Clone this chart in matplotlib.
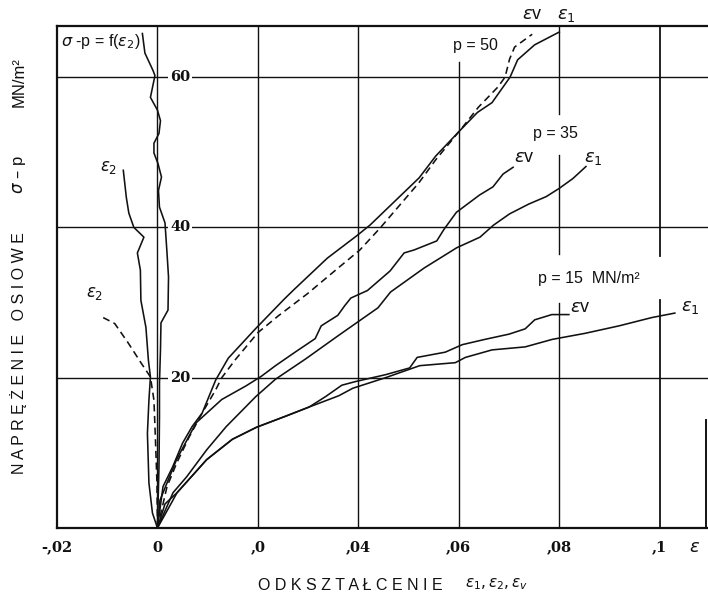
import matplotlib
matplotlib.use("Agg")
import matplotlib.pyplot as plt

# ---------------- data (strain, axial stress sigma-p in MN/m^2) ----------------
# p = 50 MN/m^2
p50_e1_x = [0, 0.0011, 0.0030, 0.0050, 0.0069, 0.0089, 0.0116, 0.0141, 0.0195, 0.0253, 0.0273,
            0.0338, 0.0397, 0.0423, 0.0521, 0.0554, 0.0598, 0.0637, 0.0666, 0.0702, 0.0717, 0.0751, 0.0800]
p50_e1_y = [0, 5.5, 8.1, 11.3, 13.5, 15.3, 19.7, 22.6, 26.5, 30.5, 31.8,
            35.9, 38.9, 40.3, 46.6, 49.5, 52.6, 55.3, 56.6, 60.0, 62.3, 64.3, 66.0]

p50_ev_x = [0, 0.0019, 0.0038, 0.0063, 0.0089, 0.0116, 0.0128, 0.0155, 0.0200, 0.0240, 0.0299,
            0.0358, 0.0403, 0.0443, 0.0520, 0.0554, 0.0607, 0.0639, 0.0678, 0.0692, 0.0701, 0.0711, 0.0746]
p50_ev_y = [0, 5.5, 8.6, 12.1, 15.3, 18.4, 20.0, 22.4, 26.0, 28.2, 31.2,
            34.5, 37.0, 39.9, 45.9, 49.0, 53.3, 56.0, 58.7, 60.0, 62.4, 64.0, 65.7]

p50_e2_x = [0, 0.0003, 0.0004, 0.0004, 0.0006, 0.0007, 0.0021, 0.0022, 0.0019, 0.0015, 0.0004, 0.0002,
            0.0008, 0.0001, -0.0007, -0.0007, 0.0003, 0.0006, 0.0000, -0.0014, -0.0005, -0.0009, -0.0025, -0.0030]
p50_e2_y = [0, 8.1, 14.8, 19.3, 23.7, 27.3, 29.0, 33.4, 36.6, 40.6, 42.7, 44.9,
            46.7, 48.5, 49.9, 51.2, 52.5, 54.2, 55.6, 57.3, 60.2, 60.9, 63.2, 65.8]

# p = 35 MN/m^2
p35_e1_x = [0, 0.0031, 0.0058, 0.0098, 0.0137, 0.0196, 0.0235, 0.0295, 0.0360, 0.0439, 0.0464,
            0.0531, 0.0596, 0.0642, 0.0669, 0.0701, 0.0739, 0.0774, 0.0800, 0.0827, 0.0853]
p35_e1_y = [0, 4.7, 6.8, 10.4, 13.5, 17.5, 19.8, 22.5, 25.6, 29.3, 31.4,
            34.6, 37.3, 38.7, 40.3, 41.8, 43.1, 44.1, 45.2, 46.5, 48.1]

p35_ev_x = [0, 0.0005, 0.0038, 0.0077, 0.0128, 0.0176, 0.0207, 0.0235, 0.0274, 0.0314, 0.0326, 0.0359,
            0.0373, 0.0385, 0.0418, 0.0463, 0.0491, 0.0511, 0.0556, 0.0570, 0.0595, 0.0641, 0.0668, 0.0688, 0.0708]
p35_ev_y = [0, 3.7, 9.1, 14.0, 17.1, 18.9, 20.2, 21.6, 23.4, 25.2, 26.9, 28.3,
            29.6, 30.6, 31.6, 34.2, 36.6, 37.0, 38.2, 39.7, 42.0, 44.3, 45.4, 47.1, 48.0]

p35_e2_x = [0, -0.0010, -0.0017, -0.0020, -0.0017, -0.0014, -0.0018, -0.0023, -0.0033, -0.0034,
            -0.0040, -0.0027, -0.0047, -0.0057, -0.0062, -0.0068]
p35_e2_y = [0, 2.0, 6.0, 12.6, 17.0, 20.1, 22.3, 26.7, 30.3, 34.3,
            36.6, 38.7, 40.0, 41.9, 44.0, 47.6]

# p = 15 MN/m^2
p15_e1_x = [0, 0.0015, 0.0039, 0.0098, 0.0149, 0.0197, 0.0256, 0.0302, 0.0361, 0.0389, 0.0454,
            0.0522, 0.0593, 0.0613, 0.0666, 0.0732, 0.0786, 0.0851, 0.0919, 0.0984, 0.1030]
p15_e1_y = [0, 3.2, 4.7, 9.1, 11.8, 13.4, 14.9, 16.1, 17.6, 18.6, 20.0,
            21.6, 22.0, 22.7, 23.7, 24.1, 25.1, 25.9, 26.9, 28.0, 28.6]

p15_ev_x = [0, 0.0025, 0.0039, 0.0098, 0.0149, 0.0197, 0.0256, 0.0302, 0.0335, 0.0367, 0.0395, 0.0454,
            0.0502, 0.0517, 0.0573, 0.0607, 0.0652, 0.0700, 0.0732, 0.0751, 0.0785, 0.0819]
p15_ev_y = [0, 3.0, 4.7, 9.1, 11.8, 13.4, 14.9, 16.1, 17.5, 19.0, 19.5, 20.4,
            21.3, 22.7, 23.4, 24.4, 25.1, 25.8, 26.5, 27.7, 28.4, 28.4]

p15_e2_x = [0, -0.0001, -0.0004, -0.0007, -0.0014, -0.0032, -0.0058, -0.0085, -0.0108]
p15_e2_y = [0, 6.0, 11.7, 17.0, 20.1, 21.9, 24.6, 27.2, 28.0]

x_ticks = [-0.02, 0, 0.02, 0.04, 0.06, 0.08, 0.1]
x_tick_labels = ["-,02", "0", ",0", ",04", ",06", ",08", ",1"]
y_ticks = [20, 40, 60]
y_tick_labels = ["20", "40", "60"]

XMIN, XMAX = -0.02, 0.1096
YMIN, YMAX = 0, 66.8

# ---------------- figure ----------------
fig = plt.figure(figsize=(7.08, 6.0), dpi=100)
fig.patch.set_facecolor("white")
ax = fig.add_axes([57 / 708, 72 / 600, 651 / 708, 502 / 600])
ax.set_xlim(XMIN, XMAX)
ax.set_ylim(YMIN, YMAX)

ink = "#111111"
for s in ["left", "top", "bottom"]:
    ax.spines[s].set_linewidth(1.6)
    ax.spines[s].set_color(ink)
ax.spines["right"].set_visible(False)
# partial right border
ax.axvline(XMAX - 0.0004, ymin=0, ymax=0.215, color=ink, lw=1.4)

# horizontal grid
for yv in y_ticks:
    ax.axhline(yv, color=ink, lw=1.0, zorder=1)

# vertical grid (with gaps where the scanned original has them)
def frac(v):
    return (v - YMIN) / (YMAX - YMIN)

ax.axvline(0.0, color=ink, lw=1.0, zorder=1)
ax.axvline(0.02, color=ink, lw=1.0, zorder=1)
ax.axvline(0.04, color=ink, lw=1.0, zorder=1)
ax.axvline(0.06, ymin=0, ymax=frac(62.0), color=ink, lw=1.0, zorder=1)
ax.axvline(0.08, ymin=0, ymax=frac(29.9), color=ink, lw=1.0, zorder=1)
ax.axvline(0.08, ymin=frac(36.5), ymax=frac(49.7), color=ink, lw=1.0, zorder=1)
ax.axvline(0.08, ymin=frac(55.1), ymax=1, color=ink, lw=1.0, zorder=1)
ax.axvline(0.1, ymin=0, ymax=frac(30.3), color=ink, lw=1.3, zorder=1)
ax.axvline(0.1, ymin=frac(36.2), ymax=1, color=ink, lw=1.3, zorder=1)

# curves
lw = 1.15
dash = (0, (4.5, 2.8))
ax.plot(p50_e1_x, p50_e1_y, color=ink, lw=lw, zorder=3)
ax.plot(p50_ev_x, p50_ev_y, color=ink, lw=lw, ls=dash, zorder=3)
ax.plot(p50_e2_x, p50_e2_y, color=ink, lw=lw, zorder=3)
ax.plot(p35_e1_x, p35_e1_y, color=ink, lw=lw, zorder=3)
ax.plot(p35_ev_x, p35_ev_y, color=ink, lw=lw, zorder=3)
ax.plot(p35_e2_x, p35_e2_y, color=ink, lw=lw, zorder=3)
ax.plot(p15_e1_x, p15_e1_y, color=ink, lw=lw, zorder=3)
ax.plot(p15_ev_x, p15_ev_y, color=ink, lw=lw, zorder=3)
ax.plot(p15_e2_x, p15_e2_y, color=ink, lw=lw, ls=dash, zorder=3)

# ticks
tick_font = dict(family="DejaVu Serif", weight="bold", size=10.5)
ax.set_yticks([])
ax.set_xticks(x_ticks)
ax.set_xticklabels(x_tick_labels, fontdict=tick_font, color=ink)
ax.tick_params(axis="x", length=0, pad=9)
for yv, lab in zip(y_ticks, y_tick_labels):
    ax.text(0.0045, yv, lab, ha="center", va="center", fontdict=tick_font, color=ink,
            zorder=4, bbox=dict(facecolor="white", edgecolor="none", pad=1.5))
ax.text(0.107, -0.037, r"$\varepsilon$", transform=ax.get_xaxis_transform(),
        ha="center", va="center", fontsize=13, color=ink)

# annotations
sans = "Liberation Sans"
ev_label = r"$\varepsilon$v"
ax.text(-0.0193, 64.8, r"$\sigma$ -p = f($\varepsilon_2$)", family=sans, fontsize=11.5,
        ha="left", va="center", color=ink, zorder=4)
ax.text(-0.0098, 48.0, r"$\varepsilon_2$", fontsize=12, ha="center", va="center", color=ink)
ax.text(-0.0125, 31.3, r"$\varepsilon_2$", fontsize=12, ha="center", va="center", color=ink)

ax.text(0.0633, 64.2, "p = 50", family=sans, fontsize=11.5, ha="center", va="center", color=ink)
ax.text(0.0746, 68.3, ev_label, family=sans, fontsize=13, ha="center", va="center",
        color=ink, clip_on=False)
ax.text(0.0814, 68.3, r"$\varepsilon_1$", fontsize=13, ha="center", va="center",
        color=ink, clip_on=False)

ax.text(0.0793, 52.5, "p = 35", family=sans, fontsize=11.5, ha="center", va="center", color=ink)
ax.text(0.0730, 49.3, ev_label, family=sans, fontsize=13, ha="center", va="center", color=ink)
ax.text(0.0867, 49.3, r"$\varepsilon_1$", fontsize=13, ha="center", va="center", color=ink)

ax.text(0.0858, 33.2, "p = 15  MN/m²", family=sans, fontsize=11.5, ha="center", va="center", color=ink)
ax.text(0.0842, 29.3, ev_label, family=sans, fontsize=13, ha="center", va="center", color=ink)
ax.text(0.1060, 29.4, r"$\varepsilon_1$", fontsize=13, ha="center", va="center", color=ink)

# axis titles
fig.text(19 / 708, 1 - 353 / 600, "N A P R Ę Ż E N I E   O S I O W E", family=sans,
         fontsize=11.5, rotation=90, ha="center", va="center", color=ink)
fig.text(19 / 708, 1 - 175 / 600, r"$\sigma$ – p", family=sans, fontsize=12,
         rotation=90, ha="center", va="center", color=ink)
fig.text(19 / 708, 1 - 82 / 600, "MN/m²", family=sans, fontsize=12,
         rotation=90, ha="center", va="center", color=ink)
fig.text(350 / 708, 1 - 585 / 600, "O D K S Z T A Ł C E N I E", family=sans,
         fontsize=11.5, ha="center", va="center", color=ink)
fig.text(497 / 708, 1 - 584 / 600, r"$\varepsilon_1, \varepsilon_2, \varepsilon_v$",
         fontsize=11, ha="center", va="center", color=ink)

fig.savefig("out.png", dpi=100, facecolor="white")
